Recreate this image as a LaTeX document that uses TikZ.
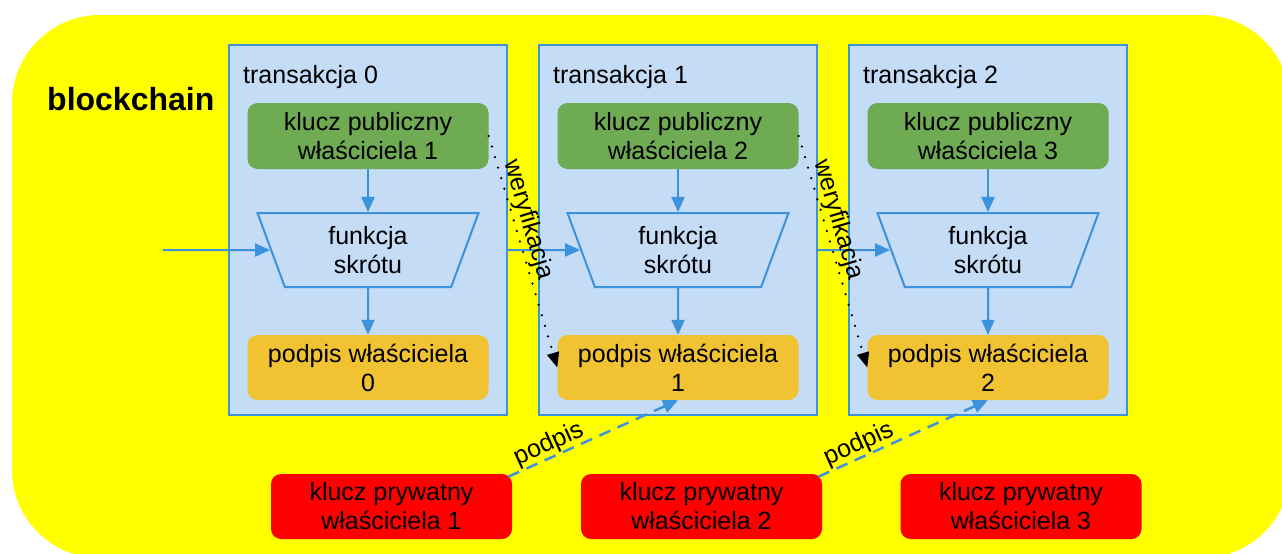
\documentclass[tikz,border=0pt]{standalone}
\usepackage{fontspec}
\setmainfont{Liberation Sans}
\usetikzlibrary{arrows.meta,shapes.geometric}
\definecolor{bgyellow}{HTML}{FFFF00}
\definecolor{bfill}{HTML}{C4DCF6}
\definecolor{bblue}{HTML}{3D92DC}
\definecolor{kgreen}{HTML}{6FAB53}
\definecolor{korange}{HTML}{F1C232}
\definecolor{kred}{HTML}{FF0000}
\begin{document}
\begin{tikzpicture}[x=1pt,y=-1pt,
  txt/.style={font=\fontsize{25}{29}\selectfont},
  txbox/.style={draw=bblue, fill=bfill, line width=2pt, minimum width=278pt, minimum height=370pt, inner sep=0pt},
  keybox/.style={txt, rounded corners=10pt, minimum width=241pt, minimum height=65pt, align=center, inner sep=0pt},
  pubkey/.style={keybox, fill=kgreen, minimum height=66pt},
  sig/.style={keybox, fill=korange},
  privkey/.style={keybox, fill=kred},
  hashfn/.style={txt, trapezium, trapezium angle=60, trapezium stretches body, shape border rotate=180, minimum width=221pt, minimum height=74pt, draw=bblue, line width=2pt, align=center, inner sep=0pt},
  flow/.style={draw=bblue, line width=2pt, -{Triangle[length=15pt,width=13pt]}},
  verif/.style={draw=black, line width=2.5pt, dash pattern=on 0pt off 11pt, line cap=round, -{Triangle[length=15pt,width=12pt]}},
  signs/.style={draw=bblue, line width=2.5pt, dash pattern=on 12pt off 8pt, -{Triangle[length=15pt,width=13pt]}},
  lbl/.style={txt, text=black, inner sep=0pt},
]
\useasboundingbox (0,0) rectangle (1282,554);
\begin{scope}
  \clip (0,0) rectangle (1282,554);
  \fill[bgyellow, rounded corners=88pt] (12,15) rectangle (1290,558);
\end{scope}
\node[font=\bfseries\fontsize{32}{38}\selectfont, anchor=base west, inner sep=0pt] (title) at (47,110) {blockchain};

\foreach \i/\x in {0/368,1/678,2/988} {
  \node[txbox] (box\i) at (\x,230) {};
  \node[txt, anchor=base west, inner sep=0pt] (tt\i) at ({\x-125},83) {transakcja \i};
  \node[pubkey] (pk\i) at (\x,136) {klucz publiczny\\właściciela \the\numexpr\i+1\relax};
  \node[hashfn] (hf\i) at (\x,250) {funkcja\\skrótu};
  \node[sig] (sg\i) at (\x,367.5) {podpis właściciela\\\i};
  \draw[flow] (pk\i) -- (hf\i);
  \draw[flow] (hf\i) -- (sg\i);
}
\node[privkey] (rk0) at (391.5,506.5) {klucz prywatny\\właściciela 1};
\node[privkey] (rk1) at (701.5,506.5) {klucz prywatny\\właściciela 2};
\node[privkey] (rk2) at (1021,506.5) {klucz prywatny\\właściciela 3};

\coordinate (in) at (163,250);
\draw[flow] (in) -- (hf0);
\draw[flow] (box0.east |- hf1) -- (hf1);
\draw[flow] (box1.east |- hf2) -- (hf2);

\draw[verif] (pk0.east) -- node[lbl, pos=0.38, sloped, above=1pt] {weryfikacja} (sg1.west);
\draw[verif] (pk1.east) -- node[lbl, pos=0.38, sloped, above=1pt] {weryfikacja} (sg2.west);

\draw[signs] ([xshift=-4pt,yshift=-3pt]rk0.north east) -- node[lbl, pos=0.27, sloped, above=0pt] {podpis} (sg1.south);
\draw[signs] ([xshift=-4pt,yshift=-3pt]rk1.north east) -- node[lbl, pos=0.27, sloped, above=0pt] {podpis} (sg2.south);
\end{tikzpicture}
\end{document}
